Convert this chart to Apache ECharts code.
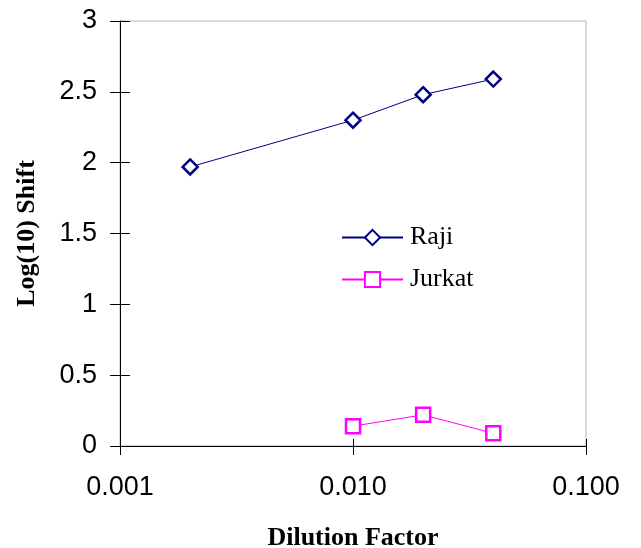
<!DOCTYPE html>
<html>
<head>
<meta charset="utf-8">
<script src="https://cdn.jsdelivr.net/npm/echarts@6/dist/echarts.min.js"></script>
<style>
  html, body { margin: 0; padding: 0; background: #fff; }
  #chart { width: 641px; height: 548px; }
</style>
</head>
<body>
<div id="chart"></div>
<script>
  // values
  const rajiDilution = [0.002, 0.01, 0.02, 0.04]
  const rajiShift = [1.97, 2.30, 2.48, 2.59]
  const jurkatDilution = [0.01, 0.02, 0.04]
  const jurkatShift = [0.14, 0.22, 0.09]

  const pairs = (xs, ys) => xs.map((x, i) => [x, ys[i]])

  const sans = 'Liberation Sans'
  const serif = 'Liberation Serif'

  const myChart = echarts.init(document.getElementById('chart'))
  const option = {
    animation: false,
    grid: {
      left: 120,
      right: 55,
      top: 21,
      bottom: 102,
      outerBoundsMode: 'none',
      containLabel: false,
      show: true,
      borderColor: '#b4b4b4',
      borderWidth: 1
    },
    legend: {
      orient: 'vertical',
      left: 341,
      top: 223,
      padding: 0,
      itemWidth: 61,
      itemHeight: 19,
      itemGap: 13,
      textStyle: {
        fontFamily: serif,
        fontSize: 26,
        color: '#000',
        lineHeight: 29,
        padding: [0, 0, 0, 2]
      },
      data: ['Raji', 'Jurkat']
    },
    xAxis: [
      {
        type: 'log',
        logBase: 10,
        min: 0.001,
        max: 0.1,
        interval: 1,
        name: 'Dilution Factor',
        nameLocation: 'middle',
        nameGap: 79,
        nameTextStyle: { fontFamily: serif, fontWeight: 'bold', fontSize: 26, color: '#000' },
        axisLine: { lineStyle: { color: '#000', width: 1 } },
        axisTick: { show: true, length: 9, lineStyle: { color: '#000' } },
        axisLabel: {
          fontFamily: sans,
          fontSize: 27,
          color: '#000',
          margin: 28,
          formatter: v => v.toFixed(3)
        },
        splitLine: { show: false },
        minorTick: { show: false }
      },
      {
        type: 'log',
        logBase: 10,
        min: 0.001,
        max: 0.1,
        interval: 1,
        position: 'bottom',
        axisLine: { show: false },
        axisTick: { show: true, inside: true, length: 7, lineStyle: { color: '#000' } },
        axisLabel: { show: false },
        splitLine: { show: false }
      }
    ],
    yAxis: [
      {
        type: 'value',
        min: 0,
        max: 3,
        interval: 0.5,
        name: 'Log(10) Shift',
        nameLocation: 'middle',
        nameGap: 80,
        nameTextStyle: { fontFamily: serif, fontWeight: 'bold', fontSize: 26, color: '#000' },
        axisLine: { show: true, lineStyle: { color: '#000', width: 1 } },
        axisTick: { show: true, length: 10, lineStyle: { color: '#000' } },
        axisLabel: { fontFamily: sans, fontSize: 27, color: '#000', margin: 23 },
        splitLine: { show: false }
      },
      {
        type: 'value',
        min: 0,
        max: 3,
        interval: 0.5,
        position: 'left',
        axisLine: { show: false },
        axisTick: { show: true, inside: true, length: 10, lineStyle: { color: '#000' } },
        axisLabel: { show: false },
        splitLine: { show: false }
      }
    ],
    series: [
      {
        name: 'Raji',
        type: 'line',
        data: pairs(rajiDilution, rajiShift),
        symbol: 'diamond',
        symbolSize: 15,
        showAllSymbol: true,
        lineStyle: { color: '#000080', width: 1 },
        itemStyle: { color: '#fff', borderColor: '#000080', borderWidth: 2.5 },
        emphasis: { disabled: true }
      },
      {
        name: 'Jurkat',
        type: 'line',
        data: pairs(jurkatDilution, jurkatShift),
        symbol: 'rect',
        symbolSize: 14,
        showAllSymbol: true,
        lineStyle: { color: '#ff00ff', width: 1 },
        itemStyle: { color: '#fff', borderColor: '#ff00ff', borderWidth: 2.5 },
        emphasis: { disabled: true }
      }
    ]
  }
  myChart.setOption(option)
</script>
</body>
</html>
